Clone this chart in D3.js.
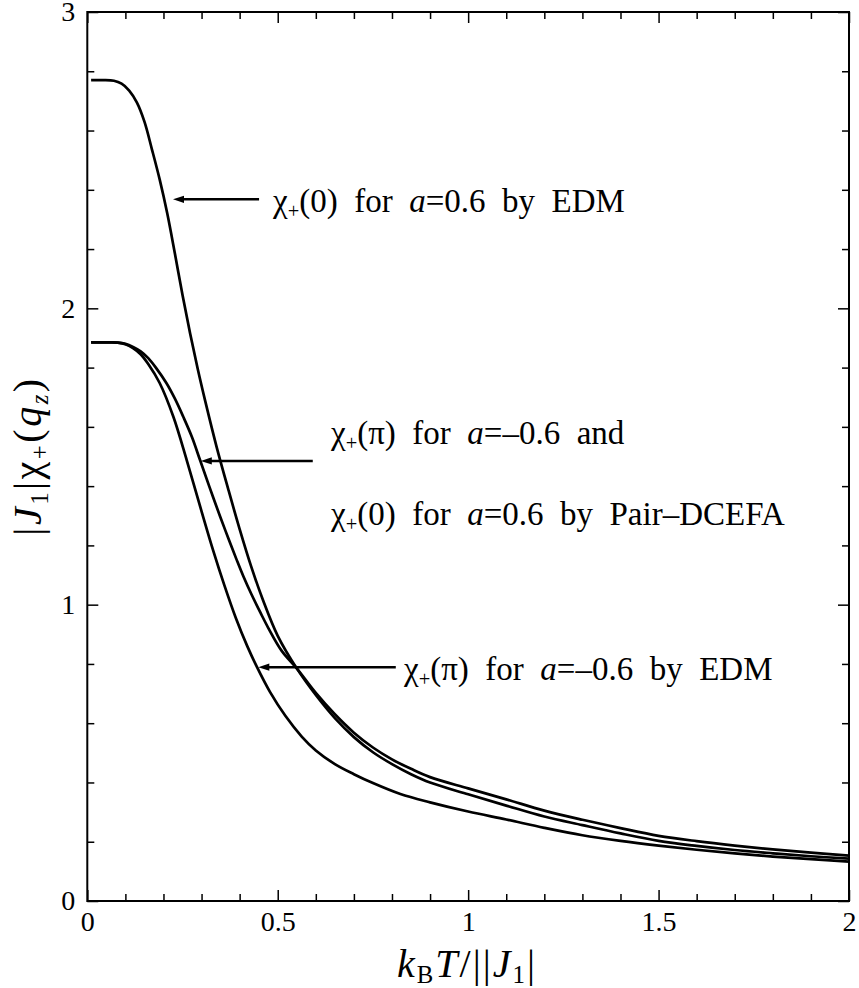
<!DOCTYPE html>
<html>
<head>
<meta charset="utf-8">
<script src="https://cdn.jsdelivr.net/npm/d3@7"></script>
<style>
  body { margin: 0; background: #fff; }
  svg { display: block; }
</style>
</head>
<body>
<svg id="chart" width="859" height="988" font-family="Liberation Serif"></svg>
<script>
// chi_+(0) for a = 0.6, exact diagonalization (EDM)
const tempEdmZero = [0.01,0.04,0.07,0.09,0.11,0.13,0.15,0.17,0.19,0.21,0.23,0.25,0.27,0.29,0.31,0.34,0.37,0.40,0.43,0.46,0.50,0.55,0.60,0.65,0.70,0.75,0.80,0.85,0.90,1.00,1.10,1.20,1.30,1.40,1.50,1.60,1.70,1.80,1.90,2.00];
const chiEdmZero  = [2.770,2.770,2.768,2.758,2.735,2.695,2.630,2.535,2.435,2.320,2.185,2.045,1.915,1.795,1.685,1.530,1.390,1.255,1.130,1.020,0.895,0.785,0.695,0.617,0.553,0.502,0.462,0.428,0.400,0.360,0.322,0.285,0.256,0.228,0.203,0.186,0.172,0.161,0.151,0.143];

// chi_+(pi) for a = -0.6 and chi_+(0) for a = 0.6, Pair-DCEFA
const tempPair = [0.01,0.06,0.08,0.10,0.12,0.14,0.16,0.18,0.208,0.23,0.252,0.275,0.296,0.32,0.348,0.37,0.392,0.41,0.431,0.455,0.475,0.51,0.55,0.60,0.65,0.70,0.75,0.80,0.85,0.90,1.00,1.10,1.20,1.30,1.40,1.50,1.60,1.70,1.80,1.90,2.00];
const chiPair  = [1.885,1.885,1.884,1.880,1.870,1.855,1.832,1.800,1.747,1.695,1.634,1.565,1.488,1.400,1.300,1.225,1.152,1.095,1.035,0.972,0.922,0.845,0.785,0.702,0.630,0.568,0.518,0.478,0.446,0.418,0.380,0.343,0.305,0.274,0.246,0.220,0.202,0.187,0.174,0.163,0.153];

// chi_+(pi) for a = -0.6, EDM
const tempEdmPi = [0.01,0.06,0.08,0.10,0.12,0.14,0.16,0.19,0.226,0.261,0.30,0.33,0.36,0.39,0.42,0.445,0.48,0.52,0.563,0.60,0.65,0.70,0.75,0.822,0.90,1.00,1.10,1.20,1.30,1.40,1.50,1.60,1.70,1.80,1.90,2.00];
const chiEdmPi  = [1.885,1.885,1.884,1.879,1.866,1.845,1.812,1.748,1.634,1.488,1.315,1.185,1.065,0.955,0.860,0.791,0.705,0.625,0.555,0.508,0.462,0.428,0.398,0.361,0.333,0.302,0.275,0.247,0.222,0.203,0.187,0.173,0.161,0.150,0.141,0.133];

// axis ticks
const xMajorTicks = [0, 0.5, 1, 1.5, 2];
const xTickLabels = ["0", "0.5", "1", "1.5", "2"];
const yMajorTicks = [0, 1, 2, 3];
const yTickLabels = ["0", "1", "2", "3"];
const xMinorTicks = [0.1,0.2,0.3,0.4,0.6,0.7,0.8,0.9,1.1,1.2,1.3,1.4,1.6,1.7,1.8,1.9];
const yMinorTicks = [0.2,0.4,0.6,0.8,1.2,1.4,1.6,1.8,2.2,2.4,2.6,2.8];

// annotation arrows: tail T, tip T, value
const arrowTail = [0.451, 0.592, 0.810];
const arrowTip  = [0.225, 0.298, 0.449];
const arrowY    = [2.368, 1.485, 0.789];

const FONT = "Liberation Serif";
const svg = d3.select("#chart");
const x = d3.scaleLinear().domain([0, 2]).range([87.3, 849]);
const y = d3.scaleLinear().domain([0, 3]).range([901, 12]);

function styleAxis(g) {
  g.select(".domain").remove();
  g.attr("font-family", FONT).attr("font-size", 28);
  g.selectAll(".tick line").attr("stroke", "#000").attr("stroke-width", 1.5);
  g.selectAll(".tick text").attr("fill", "#000");
}

// bottom
svg.append("g").attr("transform", `translate(0,${y(0)})`)
  .call(d3.axisBottom(x).tickValues(xMinorTicks).tickSize(-7).tickFormat(""))
  .call(styleAxis);
svg.append("g").attr("transform", `translate(0,${y(0)})`)
  .call(d3.axisBottom(x).tickValues(xMajorTicks).tickSize(-11).tickPadding(10)
    .tickFormat((d, i) => xTickLabels[i]))
  .call(styleAxis);
// top
svg.append("g").attr("transform", `translate(0,${y(3)})`)
  .call(d3.axisTop(x).tickValues(xMinorTicks).tickSize(-7).tickFormat(""))
  .call(styleAxis);
svg.append("g").attr("transform", `translate(0,${y(3)})`)
  .call(d3.axisTop(x).tickValues(xMajorTicks).tickSize(-11).tickFormat(""))
  .call(styleAxis);
// left
svg.append("g").attr("transform", `translate(${x(0)},0)`)
  .call(d3.axisLeft(y).tickValues(yMinorTicks).tickSize(-7).tickFormat(""))
  .call(styleAxis);
svg.append("g").attr("transform", `translate(${x(0)},0)`)
  .call(d3.axisLeft(y).tickValues(yMajorTicks).tickSize(-11).tickPadding(12)
    .tickFormat((d, i) => yTickLabels[i]))
  .call(styleAxis);
// right
svg.append("g").attr("transform", `translate(${x(2)},0)`)
  .call(d3.axisRight(y).tickValues(yMinorTicks).tickSize(-7).tickFormat(""))
  .call(styleAxis);
svg.append("g").attr("transform", `translate(${x(2)},0)`)
  .call(d3.axisRight(y).tickValues(yMajorTicks).tickSize(-11).tickFormat(""))
  .call(styleAxis);

// frame
svg.append("rect")
  .attr("x", x(0)).attr("y", y(3))
  .attr("width", x(2) - x(0)).attr("height", y(0) - y(3))
  .attr("fill", "none").attr("stroke", "#000").attr("stroke-width", 2);

// curves
const line = d3.line().x(d => x(d[0])).y(d => y(d[1])).curve(d3.curveCatmullRom.alpha(0.5));
const series = [
  d3.zip(tempEdmZero, chiEdmZero),
  d3.zip(tempPair, chiPair),
  d3.zip(tempEdmPi, chiEdmPi)
];
svg.append("g").selectAll("path").data(series).join("path")
  .attr("d", line)
  .attr("fill", "none").attr("stroke", "#000")
  .attr("stroke-width", 2.7).attr("stroke-linejoin", "round");

// arrows
const arrows = svg.append("g");
arrowTail.forEach((t, i) => {
  const ty = y(arrowY[i]), xt = x(arrowTip[i]), xs = x(t);
  arrows.append("line")
    .attr("x1", xs).attr("x2", xt + 8).attr("y1", ty).attr("y2", ty)
    .attr("stroke", "#000").attr("stroke-width", 2.6);
  arrows.append("path")
    .attr("d", `M${xt},${ty} L${xt + 11},${ty - 3.6} L${xt + 11},${ty + 3.6} Z`)
    .attr("fill", "#000");
});

// rich text helper: segments of [text, kind]; subscripts are lowered and
// the following segment returns to the baseline
function rich(sel, segs, size, shift) {
  const sub = size * 0.62;
  const dy = size * shift;
  let back = 0;
  segs.forEach(([t, kind]) => {
    const s = sel.append("tspan").text(t);
    if (kind === "sub" || kind === "isub") {
      s.attr("font-size", sub).attr("dy", dy + back);
      if (kind === "isub") s.attr("font-style", "italic");
      back = -dy;
    } else {
      s.attr("font-size", size);
      if (back) s.attr("dy", back);
      if (kind === "i") s.attr("font-style", "italic");
      back = 0;
    }
  });
}

const annSize = 33;
const labelLines = [
  { x: 273, y: 211.5, segs: [["χ",""],["+","sub"],["(0)  for  ",""],["a","i"],["=0.6  by  EDM",""]] },
  { x: 331, y: 443.5, segs: [["χ",""],["+","sub"],["(π)  for  ",""],["a","i"],["=–0.6  and",""]] },
  { x: 331, y: 524.5, segs: [["χ",""],["+","sub"],["(0)  for  ",""],["a","i"],["=0.6  by  Pair–DCEFA",""]] },
  { x: 404, y: 679.5, segs: [["χ",""],["+","sub"],["(π)  for  ",""],["a","i"],["=–0.6  by  EDM",""]] }
];
labelLines.forEach(l => {
  const t = svg.append("text").attr("x", l.x).attr("y", l.y)
    .attr("font-family", FONT).attr("font-size", annSize).style("white-space", "pre");
  rich(t, l.segs, annSize, 0.2);
});

// x-axis title
const xt = svg.append("text").attr("x", 467).attr("y", 977)
  .attr("text-anchor", "middle").attr("font-family", FONT).attr("font-size", 40)
  .attr("letter-spacing", 2).style("white-space", "pre");
rich(xt, [["k","i"],["B","sub"],["T","i"],["/||",""],["J","i"],["1","sub"],["|",""]], 40, 0.16);

// y-axis title
const yt = svg.append("text")
  .attr("transform", "translate(41,456) rotate(-90)")
  .attr("text-anchor", "middle").attr("font-family", FONT).attr("font-size", 40)
  .attr("letter-spacing", 2.5).style("white-space", "pre");
rich(yt, [["|",""],["J","i"],["1","sub"],["|χ",""],["+","sub"],["(",""],["q","i"],["z","isub"],[")",""]], 40, 0.18);
</script>
</body>
</html>
